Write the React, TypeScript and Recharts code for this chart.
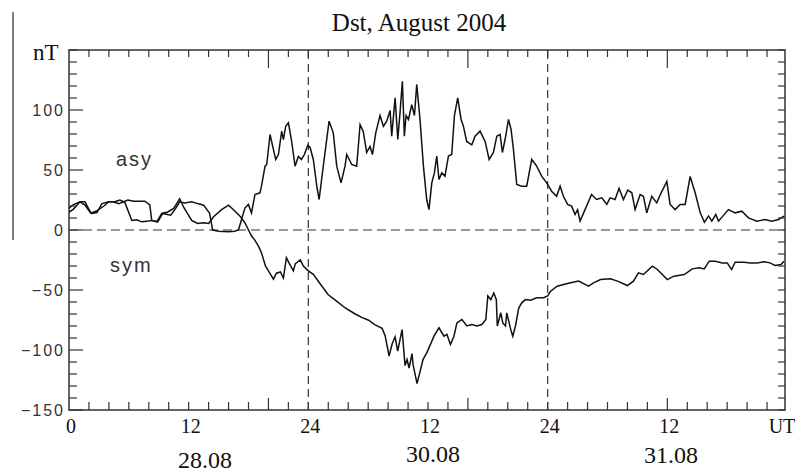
import React from "react";
import { LineChart, Line, XAxis, YAxis, ReferenceLine, ReferenceArea } from "recharts";

// hour of the 3-day interval (0 = 00 UT of the first day), nT
const asySeries: [number, number][] = [
  [0, 15], [0.4, 17], [1.1, 23.5], [1.6, 23.5], [2.2, 14], [2.8, 16], [3.5, 20], [4.0, 23.5],
  [4.4, 23.5], [5.0, 22], [5.9, 25], [6.5, 24], [7.6, 24], [8.1, 21], [8.3, 8], [8.9, 6.8],
  [9.4, 13.8], [10.2, 12.4], [10.7, 18], [11.1, 23.5], [11.6, 22.5], [12.3, 23.5], [12.9, 22],
  [13.5, 20.7], [14.1, 14], [14.4, 0], [15.0, -1], [16.0, -1.5], [16.6, -1], [17.0, 0],
  [17.3, 8.7], [17.65, 18.5], [17.99, 21.3], [18.3, 14.3], [18.65, 29.6], [19.15, 31],
  [19.3, 36.5], [19.66, 53.2], [19.83, 54.6], [20.16, 79.6], [20.5, 67], [20.73, 58.8],
  [21.0, 62.9], [21.33, 82.4], [21.5, 75.4], [21.73, 86.5], [22.0, 89.3], [22.3, 75.4],
  [22.67, 53.2], [23.0, 61.3], [23.3, 58.8], [23.6, 62.9], [23.94, 70.4], [24.17, 69],
  [24.5, 58.8], [24.85, 36.5], [25.08, 25.4], [25.5, 53.2], [26.08, 90.7], [26.5, 81],
  [26.85, 53.2], [27.28, 39.3], [27.68, 53.2], [27.85, 62.9], [28.35, 54.6], [28.85, 53.2],
  [29.19, 87.9], [29.5, 82.4], [29.85, 64.6], [30.19, 69.6], [30.43, 62.9], [30.76, 81],
  [31.19, 95.4], [31.53, 86.5], [31.86, 90.7], [32.2, 99.6], [32.36, 78.2], [32.7, 110.1],
  [32.97, 75.4], [33.2, 98.2], [33.43, 124], [33.63, 78.2], [33.8, 95.4], [34.04, 92.1],
  [34.37, 104.5], [34.64, 95.4], [34.87, 121.3], [35.2, 92.1], [35.54, 53.2], [35.87, 25.4],
  [36.1, 17], [36.38, 39.3], [36.64, 47.6], [36.88, 61.6], [37.1, 42.1], [37.38, 47.6],
  [37.7, 44.9], [38.05, 61.6], [38.38, 62.9], [38.65, 95.4], [38.98, 110.1], [39.32, 92.1],
  [39.55, 86.5], [39.88, 73.8], [40.39, 70.9], [40.72, 78.2], [41.22, 82.4], [41.73, 73.8],
  [42.13, 58.8], [42.56, 64.6], [42.9, 78.2], [43.23, 79.6], [43.46, 64.6], [43.73, 75.4],
  [44.07, 92.1], [44.33, 83.8], [44.57, 67], [44.9, 37.9], [45.4, 36.5], [45.9, 36.5],
  [46.4, 58.8], [46.9, 53.2], [47.4, 44.9], [47.9, 39.3], [48.4, 32.3], [48.9, 28.1],
  [49.25, 36.5], [49.58, 28.1], [50.0, 21.3], [50.4, 19.9], [50.75, 12.9], [51.0, 17],
  [51.25, 7.4], [51.75, 17], [52.4, 29.6], [52.9, 25.4], [53.43, 26.8], [53.93, 21.3],
  [54.26, 26.8], [54.76, 25.4], [55.16, 34.7], [55.6, 25.4], [56.03, 33.3], [56.44, 31],
  [56.77, 17], [57.27, 29.6], [57.6, 28.1], [57.94, 14.3], [58.44, 28.1], [58.94, 22.6],
  [59.38, 31], [59.95, 40.4], [60.28, 21.3], [60.78, 17], [61.28, 21.3], [61.79, 21.3],
  [62.29, 44.6], [62.79, 31], [63.3, 14.3], [63.72, 6.5], [64.13, 11.5], [64.46, 7.4],
  [64.86, 12.9], [65.13, 7.4], [66.13, 17], [66.8, 14.3], [67.47, 15.7], [68.14, 10.1],
  [68.97, 7.4], [69.8, 8.8], [70.48, 7.4], [71.15, 8.8], [71.7, 11.5],
];

const symSeries: [number, number][] = [
  [0, 18], [0.4, 21], [1.1, 23.5], [1.6, 20.7], [2.0, 16], [2.3, 13.8], [2.8, 14.5], [3.3, 22],
  [4.0, 23.5], [4.6, 23.5], [5.1, 25], [5.6, 23], [6.3, 8], [6.8, 8.5], [7.3, 6.8], [8.0, 7.5],
  [8.3, 8], [8.8, 6.8], [9.3, 13.8], [9.9, 15], [10.5, 18], [11.1, 26], [11.5, 19], [12.3, 8],
  [12.9, 5.4], [13.5, 6], [14.0, 5.4], [14.5, 11], [15.3, 17], [16.0, 20.7], [16.6, 16],
  [17.2, 11], [17.65, 6], [18.0, 0], [18.3, -5], [18.6, -8], [19.0, -13.5], [19.3, -19],
  [19.7, -30], [20.0, -34], [20.5, -41], [20.8, -36], [21.2, -35], [21.5, -40], [21.8, -23],
  [22.1, -28], [22.5, -34], [22.7, -28], [23.2, -25], [23.5, -30], [24.0, -34], [24.5, -37],
  [25.2, -45], [26.0, -54], [26.8, -59], [27.7, -65], [28.7, -70], [29.4, -73], [30.0, -75],
  [30.7, -79], [31.4, -82], [31.7, -88], [32.1, -105], [32.4, -95], [32.7, -89], [32.96, -101],
  [33.4, -83], [33.7, -113], [33.9, -108], [34.1, -115], [34.4, -103], [34.5, -112],
  [34.9, -128], [35.2, -118], [35.5, -108], [35.9, -102], [36.6, -88.5], [37.1, -81.5],
  [37.6, -88.5], [37.9, -87], [38.25, -95.4], [38.6, -88.5], [38.9, -77.4], [39.4, -74.6],
  [39.9, -80], [40.4, -78.8], [40.9, -80], [41.4, -78.8], [41.8, -74.6], [42.0, -55],
  [42.3, -58], [42.6, -52.4], [42.85, -58], [42.95, -80], [43.3, -69], [43.5, -77.4],
  [43.77, -80], [43.9, -69], [44.3, -83], [44.5, -88.5], [44.77, -80], [45.1, -65],
  [45.4, -60.7], [45.77, -58], [46.3, -58.5], [46.9, -56.5], [47.6, -56.5], [48.0, -55],
  [48.3, -51], [48.95, -46.8], [49.6, -45.4], [50.3, -44], [51.1, -42.6], [52.1, -46.8],
  [52.6, -44], [53.3, -41.3], [54.3, -40.7], [55.0, -42.6], [56.0, -46.3], [56.6, -42.6],
  [57.1, -35.7], [57.6, -37.1], [58.5, -30.1], [59.0, -32.9], [59.5, -37.1], [60.0, -41.3],
  [60.65, -38.5], [61.7, -37.1], [62.5, -32.4], [63.2, -31.5], [63.7, -32.4], [64.2, -26],
  [64.8, -26], [65.5, -27.4], [66.0, -27.4], [66.45, -32.9], [66.8, -26.8], [67.7, -26.8],
  [68.3, -27.4], [69.0, -27.4], [69.7, -26.5], [70.3, -27.4], [70.8, -29.6], [71.4, -28.8],
  [71.7, -26],
];

const xTickHours = [0, 12, 24, 36, 48, 60];
const xTickLabels = ["0", "12", "24", "12", "24", "12"];
const dayBreaks = [24, 48];
const dayLabels = ["28.08", "30.08", "31.08"];
const yLabelValues = [-150, -100, -50, 0, 50, 100];

const xMinorTicks = Array.from({ length: 36 }, (_, i) => i * 2);
const yMinorTicks = Array.from({ length: 31 }, (_, i) => -150 + i * 10);

const W = 797;
const H = 474;
const PLOT = { left: 69, top: 50, right: 785, bottom: 410 };
const INK = "#111";
const SERIF = "Liberation Serif, Times New Roman, serif";
const SANS = "Liberation Sans, Arial, sans-serif";

const asyData = asySeries.map(([t, v]) => ({ t, v }));
const symData = symSeries.map(([t, v]) => ({ t, v }));

const XTick = (props: any) => {
  const { x, payload } = props;
  const v = payload.value;
  const major = v > 0 && v % 20 === 0;
  const idx = xTickHours.indexOf(v);
  return (
    <g>
      {v > 0 && (
        <line x1={x} x2={x} y1={PLOT.bottom} y2={PLOT.bottom - (major ? 12 : 8)} stroke="#333" strokeWidth={1.2} />
      )}
      {v > 0 && (
        <line x1={x} x2={x} y1={PLOT.top} y2={PLOT.top + (major ? 18 : 7)} stroke="#333" strokeWidth={1.2} />
      )}
      {idx >= 0 && (
        <text x={x + 2} y={433} textAnchor="middle" fontFamily={SERIF} fontSize={20} fill={INK}>
          {xTickLabels[idx]}
        </text>
      )}
    </g>
  );
};

const YTick = (props: any) => {
  const { y, payload } = props;
  const v = payload.value;
  const labelled = yLabelValues.includes(v);
  return (
    <g>
      <line x1={PLOT.left} x2={PLOT.left + (labelled ? 14 : 8)} y1={y} y2={y} stroke="#333" strokeWidth={1.2} />
      <line x1={PLOT.right} x2={PLOT.right - 7} y1={y} y2={y} stroke="#333" strokeWidth={1.2} />
      {labelled && (
        <text x={65} y={y + 6} textAnchor="end" fontFamily={SANS} fontSize={16} letterSpacing={2} fill="#333">
          {v < 0 ? "\u2212" + Math.abs(v) : String(v)}
        </text>
      )}
    </g>
  );
};

export default function App() {
  return (
    <div style={{ position: "absolute", left: 0, top: 0, width: W, height: H, background: "#fff" }}>
      <LineChart
        width={W}
        height={H}
        margin={{ top: PLOT.top, right: W - PLOT.right, bottom: 24, left: 9 }}
      >
        <XAxis
          type="number"
          dataKey="t"
          domain={[0, 71.8]}
          ticks={xMinorTicks}
          interval={0}
          height={40}
          axisLine={false}
          tickLine={false}
          tick={<XTick />}
          allowDataOverflow
        />
        <YAxis
          type="number"
          domain={[-150, 150]}
          ticks={yMinorTicks}
          interval={0}
          width={60}
          axisLine={false}
          tickLine={false}
          tick={<YTick />}
          allowDataOverflow
        />
        <ReferenceArea x1={0} x2={71.8} y1={-150} y2={150} fill="none" stroke="#333" strokeWidth={1.5} />
        <ReferenceLine y={0} stroke="#333" strokeWidth={1.2} strokeDasharray="9 5" />
        {dayBreaks.map((h) => (
          <ReferenceLine key={h} x={h} stroke="#333" strokeWidth={1.2} strokeDasharray="8 5" />
        ))}
        <Line data={asyData} dataKey="v" type="linear" stroke={INK} strokeWidth={1.5} dot={false} isAnimationActive={false} />
        <Line data={symData} dataKey="v" type="linear" stroke={INK} strokeWidth={1.5} dot={false} isAnimationActive={false} />
      </LineChart>
      <svg width={W} height={H} style={{ position: "absolute", left: 0, top: 0, pointerEvents: "none" }}>
        <line x1={13} x2={13} y1={12} y2={240} stroke="#555" strokeWidth={1.5} />
        <text x={419} y={31} textAnchor="middle" fontFamily={SERIF} fontSize={25} fill={INK}>
          Dst, August 2004
        </text>
        <text x={33} y={60} fontFamily={SERIF} fontSize={23} fill={INK}>nT</text>
        <text x={116} y={166} fontFamily={SANS} fontSize={20} letterSpacing={2} fill="#333">asy</text>
        <text x={110} y={272} fontFamily={SANS} fontSize={20} letterSpacing={2} fill="#333">sym</text>
        <text x={782} y={433} textAnchor="middle" fontFamily={SERIF} fontSize={20} fill={INK}>UT</text>
        <text x={205} y={468} textAnchor="middle" fontFamily={SERIF} fontSize={24} fill={INK}>{dayLabels[0]}</text>
        <text x={433} y={462} textAnchor="middle" fontFamily={SERIF} fontSize={24} fill={INK}>{dayLabels[1]}</text>
        <text x={671} y={463} textAnchor="middle" fontFamily={SERIF} fontSize={24} fill={INK}>{dayLabels[2]}</text>
      </svg>
    </div>
  );
}
